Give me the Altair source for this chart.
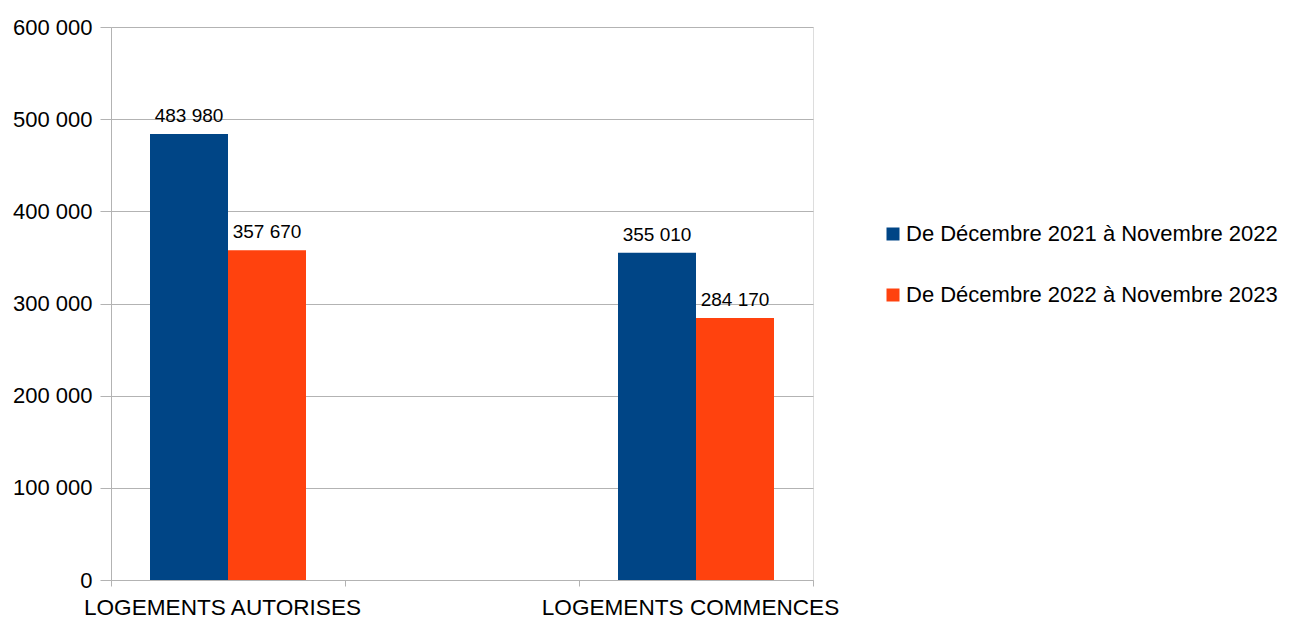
import altair as alt
import pandas as pd

categories = ["LOGEMENTS AUTORISES", " ", "LOGEMENTS COMMENCES"]
bar_categories = ["LOGEMENTS AUTORISES", "LOGEMENTS COMMENCES"]
series = ["De Décembre 2021 à Novembre 2022", "\u00a0De Décembre 2022 à Novembre 2023"]
values_2022 = [483980, 355010]
values_2023 = [357670, 284170]
colors = ["#004586", "#ff420e"]
y_ticks = [0, 100000, 200000, 300000, 400000, 500000, 600000]

rows = []
for c, v in zip(bar_categories, values_2022):
    rows.append({"cat": c, "serie": series[0], "val": v})
for c, v in zip(bar_categories, values_2023):
    rows.append({"cat": c, "serie": series[1], "val": v})
df = pd.DataFrame(rows)
df["lbl"] = df["val"].map(lambda v: f"{v:,}".replace(",", " "))
cat_df = pd.DataFrame({"cat": categories})

FONT = "Liberation Sans"

xo = alt.XOffset("serie:N", scale=alt.Scale(domain=series, paddingInner=0, paddingOuter=0))
y = alt.Y("val:Q", scale=alt.Scale(domain=[0, 600000], nice=False),
          axis=alt.Axis(title=None, values=y_ticks, tickSize=11, labelPadding=8,
                        labelFontSize=22, labelFont=FONT, labelColor="#000000",
                        labelExpr="replace(format(datum.value, ','), ',', ' ')",
                        domainColor="#b3b3b3", tickColor="#b3b3b3",
                        gridColor="#b3b3b3", gridWidth=1))

x_bars = alt.X("cat:N", scale=alt.Scale(domain=categories, paddingInner=1/3, paddingOuter=1/6),
               sort=categories, axis=None)

bars = alt.Chart(df).mark_bar().encode(
    x=x_bars, xOffset=xo, y=y,
    color=alt.Color("serie:N", scale=alt.Scale(domain=series, range=colors),
                    legend=alt.Legend(title=None, orient="none", legendX=771, legendY=196,
                                      symbolType="square", symbolSize=169, symbolStrokeWidth=0,
                                      labelFontSize=22, labelFont=FONT, labelColor="#000000",
                                      rowPadding=39, labelOffset=2, labelLimit=600))
)

text = alt.Chart(df).mark_text(baseline="bottom", dy=-8, fontSize=19, font=FONT, color="#000000").encode(
    x=x_bars, xOffset=xo, y=alt.Y("val:Q"), text="lbl:N"
)

axis_layer = alt.Chart(cat_df).mark_point(opacity=0).encode(
    x=alt.X("cat:N", scale=alt.Scale(domain=categories, paddingInner=0, paddingOuter=0),
            sort=categories,
            axis=alt.Axis(title=None, labelAngle=0, tickBand="extent", tickSize=6,
                          labelPadding=10, labelFontSize=22.6, labelColor="#000000",
                          labelFont=FONT, labelLimit=600, labelOverlap=False, labelOffset=-6,
                          domainColor="#b3b3b3", tickColor="#b3b3b3", grid=False)),
)

chart = alt.layer(axis_layer, bars, text).resolve_scale(x="independent").properties(
    width=702, height=553,
    autosize=alt.AutoSizeParams(type="none"),
    padding={"left": 103, "top": 19, "right": 476, "bottom": 39},
).configure_view(stroke="#b3b3b3").configure(background="white")

chart.save("out.html", embed_options={"renderer": "svg", "actions": False})
